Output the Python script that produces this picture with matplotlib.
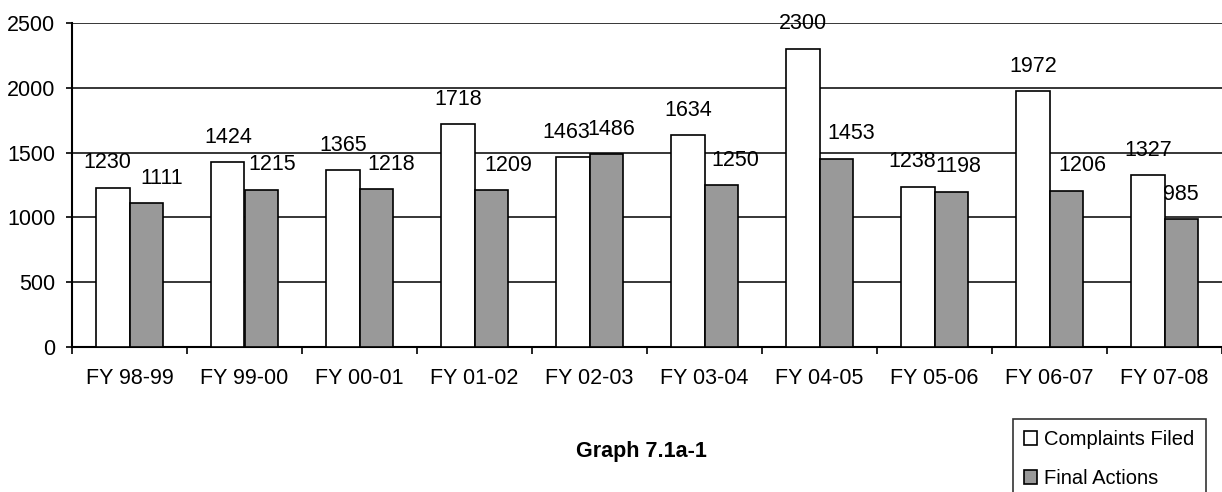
import numpy as np
import matplotlib.pyplot as plt
from matplotlib.ticker import FixedLocator

plt.rcParams['font.family'] = ['Liberation Sans', 'DejaVu Sans']

years = ['FY 98-99', 'FY 99-00', 'FY 00-01', 'FY 01-02', 'FY 02-03',
         'FY 03-04', 'FY 04-05', 'FY 05-06', 'FY 06-07', 'FY 07-08']
complaints = [1230, 1424, 1365, 1718, 1463, 1634, 2300, 1238, 1972, 1327]
final_actions = [1111, 1215, 1218, 1209, 1486, 1250, 1453, 1198, 1206, 985]

# horizontal nudges of the value labels (points), like the original layout
white_dx = [-4, 0, 0, 0, -5, 0, 0, -4, 0, 0]
gray_dx = [11, 8, 11, 12, 4, 10, 11, 5, 12, 0]

fig = plt.figure(figsize=(12.22, 4.92), dpi=100)
ax = fig.add_axes([72 / 1222, 145 / 492, 1 - 72 / 1222, (347 - 23) / 492])

x = np.arange(len(years))
w = 0.29
b1 = ax.bar(x - w / 2, complaints, w, color='white', edgecolor='black',
            linewidth=1.2, label='Complaints Filed', zorder=3)
b2 = ax.bar(x + w / 2, final_actions, w, color='#999999', edgecolor='black',
            linewidth=1.2, label='Final Actions', zorder=3)

for bars, dxs in ((b1, white_dx), (b2, gray_dx)):
    for rect, dx in zip(bars, dxs):
        h = rect.get_height()
        ax.annotate(str(int(h)), (rect.get_x() + rect.get_width() / 2, h),
                    xytext=(dx, 14), textcoords='offset points',
                    ha='center', va='baseline', fontsize=15.5, zorder=4,
                    annotation_clip=False)

ax.set_xlim(-0.5, len(years) - 0.5)
ax.set_ylim(0, 2500)
ax.set_yticks(np.arange(0, 2501, 500))
ax.yaxis.grid(True, color='black', linewidth=1.1, zorder=0)
ax.set_xticks(x)
ax.set_xticklabels(years, fontsize=15.5)
ax.xaxis.set_minor_locator(FixedLocator(np.arange(-0.5, len(years), 1)))
ax.tick_params(axis='x', which='major', length=0, pad=15)
ax.tick_params(axis='x', which='minor', length=5, width=1.2, direction='out')
ax.tick_params(axis='y', length=4, width=1.2, labelsize=15.5, pad=8)

for s in ('top', 'right'):
    ax.spines[s].set_visible(False)
ax.spines['left'].set_linewidth(1.5)
ax.spines['bottom'].set_linewidth(1.5)

fig.text(641 / 1222, 1 - 452 / 492, 'Graph 7.1a-1', ha='center', va='center',
         fontsize=15.5, fontweight='bold')

leg = fig.legend(handles=[b1, b2], loc='upper left',
                 bbox_to_anchor=(1013 / 1222, 1 - 419 / 492),
                 fontsize=14.5, frameon=True, fancybox=False,
                 handlelength=0.65, handleheight=0.65, handletextpad=0.35,
                 borderaxespad=0, borderpad=0.55, labelspacing=1.0)
leg.get_frame().set_edgecolor('black')
leg.get_frame().set_linewidth(1.2)

fig.savefig('out.png', dpi=100)
